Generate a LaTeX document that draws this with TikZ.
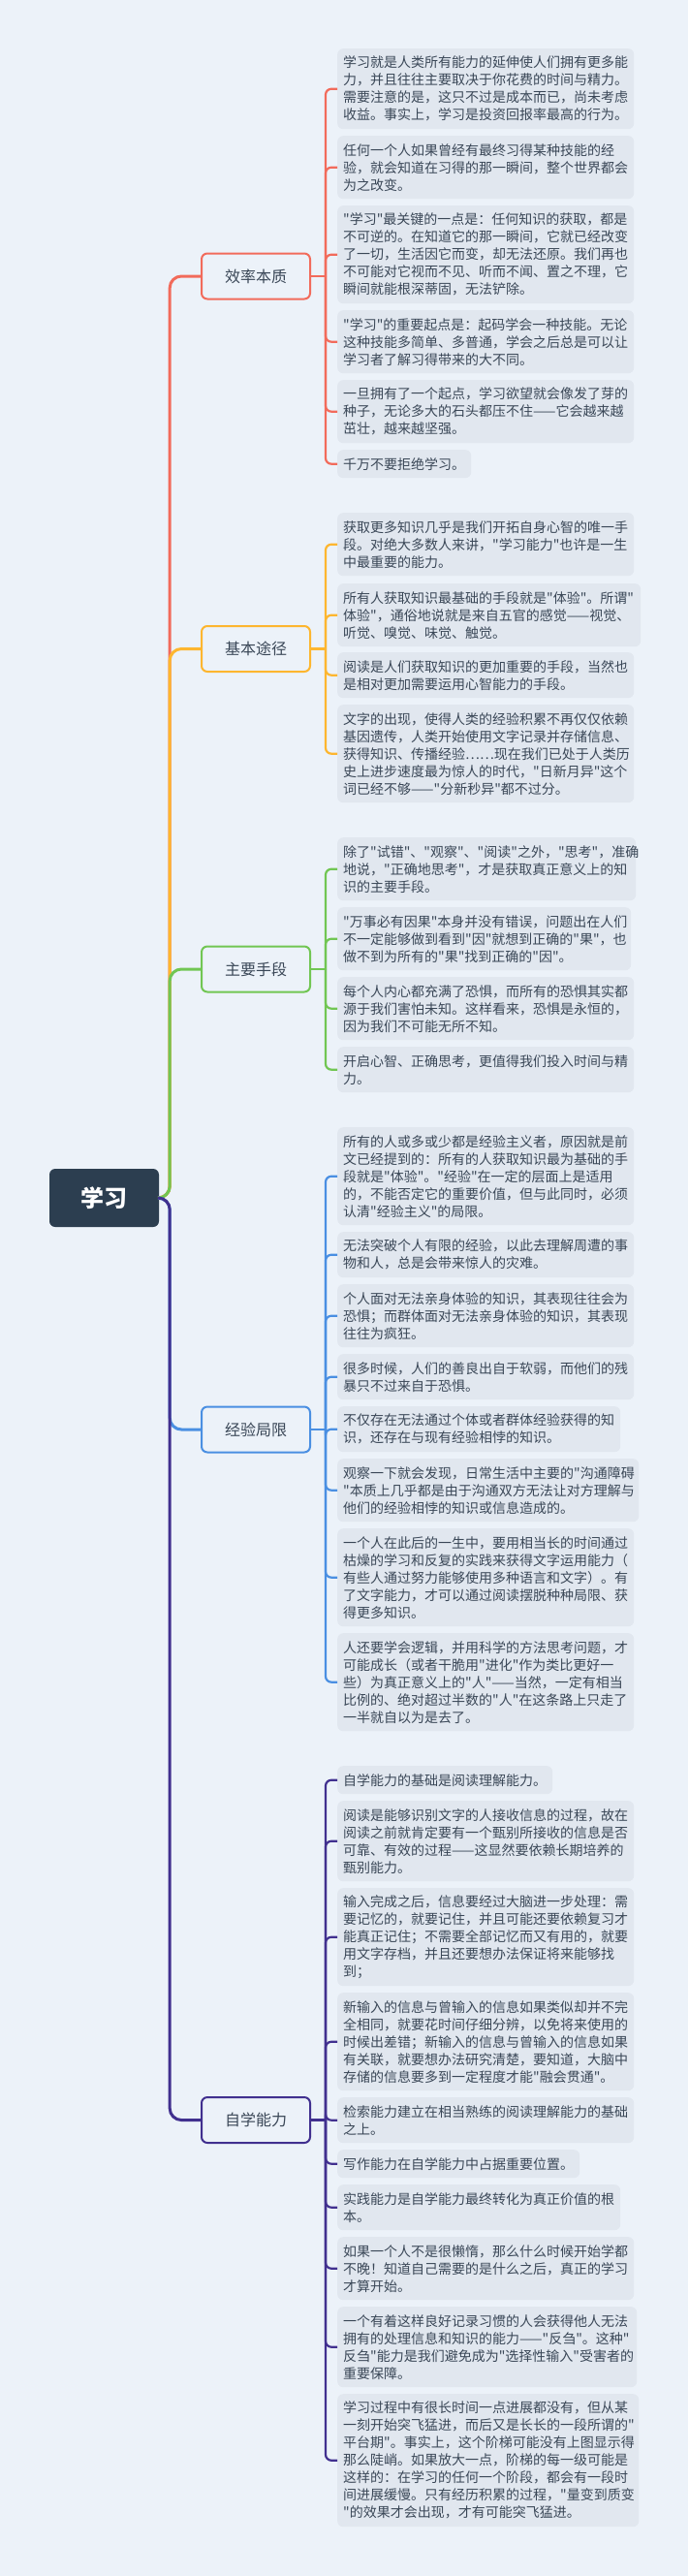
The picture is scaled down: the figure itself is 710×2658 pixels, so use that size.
\documentclass[tikz,border=0pt]{standalone}
\usepackage{fontspec}
\newfontfamily\cjk{Noto Sans CJK SC}
\definecolor{bg}{HTML}{ECF2F9}
\definecolor{boxfill}{HTML}{E1E7EF}
\definecolor{ink}{HTML}{3A4757}
\definecolor{rootc}{HTML}{2C3E50}
\definecolor{cred}{HTML}{F26B5B}
\definecolor{corange}{HTML}{FDB62F}
\definecolor{cgreen}{HTML}{71C653}
\definecolor{cblue}{HTML}{4A8FE2}
\definecolor{cpurple}{HTML}{41308F}
\tikzset{
  leaf/.style={anchor=north west, fill=boxfill, rounded corners=6pt, text=ink, align=left,
    text width=294pt, inner xsep=6pt, inner ysep=2pt, font=\cjk\fontsize{14pt}{18pt}\selectfont},
  nlines/.style={minimum height=18pt*#1+11pt},
  topic/.style={draw=#1, line width=2pt, fill=bg, rounded corners=6pt, minimum width=112pt,
    minimum height=47pt, text=ink, font=\cjk\fontsize{16pt}{20pt}\selectfont},
  root/.style={fill=rootc, rounded corners=6pt, text=white, minimum width=113pt,
    minimum height=60pt, font=\cjk\fontsize{24pt}{28pt}\selectfont\bfseries},
  limb/.style={draw=#1, line width=3pt, rounded corners=12pt},
  twig/.style={line width=2.2pt, rounded corners=6pt}
}
\begin{document}
\begin{tikzpicture}[x=1pt, y=-1pt]
\fill[bg] (0,0) rectangle (710,2658);
\useasboundingbox (0,0) rectangle (710,2658);

\node[root] (xx) at (107.5,1236) {学习};

\node[topic=cred] (xl) at (264,285) {效率本质};
\node[topic=corange] (tj) at (264,669.5) {基本途径};
\node[topic=cgreen] (sd) at (264,1000) {主要手段};
\node[topic=cblue] (jx) at (264,1475) {经验局限};
\node[topic=cpurple] (zx) at (264,2187.5) {自学能力};

\draw[limb=cred] (xx.east) -- ([xshift=11pt]xx.east) |- (xl.west);
\draw[limb=corange] (xx.east) -- ([xshift=11pt]xx.east) |- (tj.west);
\draw[limb=cgreen] (xx.east) -- ([xshift=11pt]xx.east) |- (sd.west);
\draw[limb=cblue] (xx.east) -- ([xshift=11pt]xx.east) |- (jx.west);
\draw[limb=cpurple] (xx.east) -- ([xshift=11pt]xx.east) |- (zx.west);

\begin{scope}
\node[leaf, nlines=4] (xl1) at (348,50) {学习就是人类所有能力的延伸使人们拥有更多能\\力，并且往往主要取决于你花费的时间与精力。\\需要注意的是，这只不过是成本而已，尚未考虑\\收益。事实上，学习是投资回报率最高的行为。};
\node[leaf, nlines=3] (xl2) at (348,140) {任何一个人如果曾经有最终习得某种技能的经\\验，就会知道在习得的那一瞬间，整个世界都会\\为之改变。};
\node[leaf, nlines=5] (xl3) at (348,212) {"学习"最关键的一点是：任何知识的获取，都是\\不可逆的。在知道它的那一瞬间，它就已经改变\\了一切，生活因它而变，却无法还原。我们再也\\不可能对它视而不见、听而不闻、置之不理，它\\瞬间就能根深蒂固，无法铲除。};
\node[leaf, nlines=3] (xl4) at (348,320) {"学习"的重要起点是：起码学会一种技能。无论\\这种技能多简单、多普通，学会之后总是可以让\\学习者了解习得带来的大不同。};
\node[leaf, nlines=3] (xl5) at (348,392) {一旦拥有了一个起点，学习欲望就会像发了芽的\\种子，无论多大的石头都压不住——它会越来越\\茁壮，越来越坚强。};
\node[leaf, nlines=1, text width=126pt] (xl6) at (348,464) {千万不要拒绝学习。};
\draw[twig, cred] (xl.east) -- ([xshift=15pt]xl.east);
\draw[twig, cred] ([xshift=15pt]xl.east) |- (xl1.west);
\draw[twig, cred] ([xshift=15pt]xl.east) |- (xl2.west);
\draw[twig, cred] ([xshift=15pt]xl.east) |- (xl3.west);
\draw[twig, cred] ([xshift=15pt]xl.east) |- (xl4.west);
\draw[twig, cred] ([xshift=15pt]xl.east) |- (xl5.west);
\draw[twig, cred] ([xshift=15pt]xl.east) |- (xl6.west);
\end{scope}

\begin{scope}
\node[leaf, nlines=3] (tj1) at (348,529) {获取更多知识几乎是我们开拓自身心智的唯一手\\段。对绝大多数人来讲，"学习能力"也许是一生\\中最重要的能力。};
\node[leaf, nlines=3, text width=301pt] (tj2) at (348,602) {所有人获取知识最基础的手段就是"体验"。所谓"\\体验"，通俗地说就是来自五官的感觉——视觉、\\听觉、嗅觉、味觉、触觉。};
\node[leaf, nlines=2] (tj3) at (348,673) {阅读是人们获取知识的更加重要的手段，当然也\\是相对更加需要运用心智能力的手段。};
\node[leaf, nlines=5] (tj4) at (348,727) {文字的出现，使得人类的经验积累不再仅仅依赖\\基因遗传，人类开始使用文字记录并存储信息、\\获得知识、传播经验……现在我们已处于人类历\\史上进步速度最为惊人的时代，"日新月异"这个\\词已经不够——"分新秒异"都不过分。};
\draw[twig, corange] (tj.east) -- ([xshift=15pt]tj.east);
\draw[twig, corange] ([xshift=15pt]tj.east) |- (tj1.west);
\draw[twig, corange] ([xshift=15pt]tj.east) |- (tj2.west);
\draw[twig, corange] ([xshift=15pt]tj.east) |- (tj3.west);
\draw[twig, corange] ([xshift=15pt]tj.east) |- (tj4.west);
\end{scope}

\begin{scope}
\node[leaf, nlines=3, text width=296pt] (sd1) at (348,864) {除了"试错"、"观察"、"阅读"之外，"思考"，准确\\地说，"正确地思考"，才是获取真正意义上的知\\识的主要手段。};
\node[leaf, nlines=3, text width=291pt] (sd2) at (348,936) {"万事必有因果"本身并没有错误，问题出在人们\\不一定能够做到看到"因"就想到正确的"果"，也\\做不到为所有的"果"找到正确的"因"。};
\node[leaf, nlines=3] (sd3) at (348,1008) {每个人内心都充满了恐惧，而所有的恐惧其实都\\源于我们害怕未知。这样看来，恐惧是永恒的，\\因为我们不可能无所不知。};
\node[leaf, nlines=2] (sd4) at (348,1080) {开启心智、正确思考，更值得我们投入时间与精\\力。};
\draw[twig, cgreen] (sd.east) -- ([xshift=15pt]sd.east);
\draw[twig, cgreen] ([xshift=15pt]sd.east) |- (sd1.west);
\draw[twig, cgreen] ([xshift=15pt]sd.east) |- (sd2.west);
\draw[twig, cgreen] ([xshift=15pt]sd.east) |- (sd3.west);
\draw[twig, cgreen] ([xshift=15pt]sd.east) |- (sd4.west);
\end{scope}

\begin{scope}
\node[leaf, nlines=5] (jx1) at (348,1163) {所有的人或多或少都是经验主义者，原因就是前\\文已经提到的：所有的人获取知识最为基础的手\\段就是"体验"。"经验"在一定的层面上是适用\\的，不能否定它的重要价值，但与此同时，必须\\认清"经验主义"的局限。};
\node[leaf, nlines=2] (jx2) at (348,1271) {无法突破个人有限的经验，以此去理解周遭的事\\物和人，总是会带来惊人的灾难。};
\node[leaf, nlines=3] (jx3) at (348,1325) {个人面对无法亲身体验的知识，其表现往往会为\\恐惧；而群体面对无法亲身体验的知识，其表现\\往往为疯狂。};
\node[leaf, nlines=2] (jx4) at (348,1397) {很多时候，人们的善良出自于软弱，而他们的残\\暴只不过来自于恐惧。};
\node[leaf, nlines=2, text width=280pt] (jx5) at (348,1451) {不仅存在无法通过个体或者群体经验获得的知\\识，还存在与现有经验相悖的知识。};
\node[leaf, nlines=3, text width=299pt] (jx6) at (348,1505) {观察一下就会发现，日常生活中主要的"沟通障碍\\"本质上几乎都是由于沟通双方无法让对方理解与\\他们的经验相悖的知识或信息造成的。};
\node[leaf, nlines=5] (jx7) at (348,1577) {一个人在此后的一生中，要用相当长的时间通过\\枯燥的学习和反复的实践来获得文字运用能力（\\有些人通过努力能够使用多种语言和文字）。有\\了文字能力，才可以通过阅读摆脱种种局限、获\\得更多知识。};
\node[leaf, nlines=5] (jx8) at (348,1685) {人还要学会逻辑，并用科学的方法思考问题，才\\可能成长（或者干脆用"进化"作为类比更好一\\些）为真正意义上的"人"——当然，一定有相当\\比例的、绝对超过半数的"人"在这条路上只走了\\一半就自以为是去了。};
\draw[twig, cblue] (jx.east) -- ([xshift=15pt]jx.east);
\draw[twig, cblue] ([xshift=15pt]jx.east) |- (jx1.west);
\draw[twig, cblue] ([xshift=15pt]jx.east) |- (jx2.west);
\draw[twig, cblue] ([xshift=15pt]jx.east) |- (jx3.west);
\draw[twig, cblue] ([xshift=15pt]jx.east) |- (jx4.west);
\draw[twig, cblue] ([xshift=15pt]jx.east) |- (jx5.west);
\draw[twig, cblue] ([xshift=15pt]jx.east) |- (jx6.west);
\draw[twig, cblue] ([xshift=15pt]jx.east) |- (jx7.west);
\draw[twig, cblue] ([xshift=15pt]jx.east) |- (jx8.west);
\end{scope}

\begin{scope}
\node[leaf, nlines=1, text width=210pt] (zx1) at (348,1822) {自学能力的基础是阅读理解能力。};
\node[leaf, nlines=4] (zx2) at (348,1858) {阅读是能够识别文字的人接收信息的过程，故在\\阅读之前就肯定要有一个甄别所接收的信息是否\\可靠、有效的过程——这显然要依赖长期培养的\\甄别能力。};
\node[leaf, nlines=5] (zx3) at (348,1948) {输入完成之后，信息要经过大脑进一步处理：需\\要记忆的，就要记住，并且可能还要依赖复习才\\能真正记住；不需要全部记忆而又有用的，就要\\用文字存档，并且还要想办法保证将来能够找\\到；};
\node[leaf, nlines=5] (zx4) at (348,2056) {新输入的信息与曾输入的信息如果类似却并不完\\全相同，就要花时间仔细分辨，以免将来使用的\\时候出差错；新输入的信息与曾输入的信息如果\\有关联，就要想办法研究清楚，要知道，大脑中\\存储的信息要多到一定程度才能"融会贯通"。};
\node[leaf, nlines=2] (zx5) at (348,2164) {检索能力建立在相当熟练的阅读理解能力的基础\\之上。};
\node[leaf, nlines=1, text width=238pt] (zx6) at (348,2218) {写作能力在自学能力中占据重要位置。};
\node[leaf, nlines=2, text width=280pt] (zx7) at (348,2254) {实践能力是自学能力最终转化为真正价值的根\\本。};
\node[leaf, nlines=3] (zx8) at (348,2308) {如果一个人不是很懒惰，那么什么时候开始学都\\不晚！知道自己需要的是什么之后，真正的学习\\才算开始。};
\node[leaf, nlines=4, text width=297pt] (zx9) at (348,2380) {一个有着这样良好记录习惯的人会获得他人无法\\拥有的处理信息和知识的能力——"反刍"。这种"\\反刍"能力是我们避免成为"选择性输入"受害者的\\重要保障。};
\node[leaf, nlines=7, text width=299pt] (zx10) at (348,2470) {学习过程中有很长时间一点进展都没有，但从某\\一刻开始突飞猛进，而后又是长长的一段所谓的"\\平台期"。事实上，这个阶梯可能没有上图显示得\\那么陡峭。如果放大一点，阶梯的每一级可能是\\这样的：在学习的任何一个阶段，都会有一段时\\间进展缓慢。只有经历积累的过程，"量变到质变\\"的效果才会出现，才有可能突飞猛进。};
\draw[twig, cpurple] (zx.east) -- ([xshift=15pt]zx.east);
\draw[twig, cpurple] ([xshift=15pt]zx.east) |- (zx1.west);
\draw[twig, cpurple] ([xshift=15pt]zx.east) |- (zx2.west);
\draw[twig, cpurple] ([xshift=15pt]zx.east) |- (zx3.west);
\draw[twig, cpurple] ([xshift=15pt]zx.east) |- (zx4.west);
\draw[twig, cpurple] ([xshift=15pt]zx.east) |- (zx5.west);
\draw[twig, cpurple] ([xshift=15pt]zx.east) |- (zx6.west);
\draw[twig, cpurple] ([xshift=15pt]zx.east) |- (zx7.west);
\draw[twig, cpurple] ([xshift=15pt]zx.east) |- (zx8.west);
\draw[twig, cpurple] ([xshift=15pt]zx.east) |- (zx9.west);
\draw[twig, cpurple] ([xshift=15pt]zx.east) |- (zx10.west);
\end{scope}
\end{tikzpicture}
\end{document}
